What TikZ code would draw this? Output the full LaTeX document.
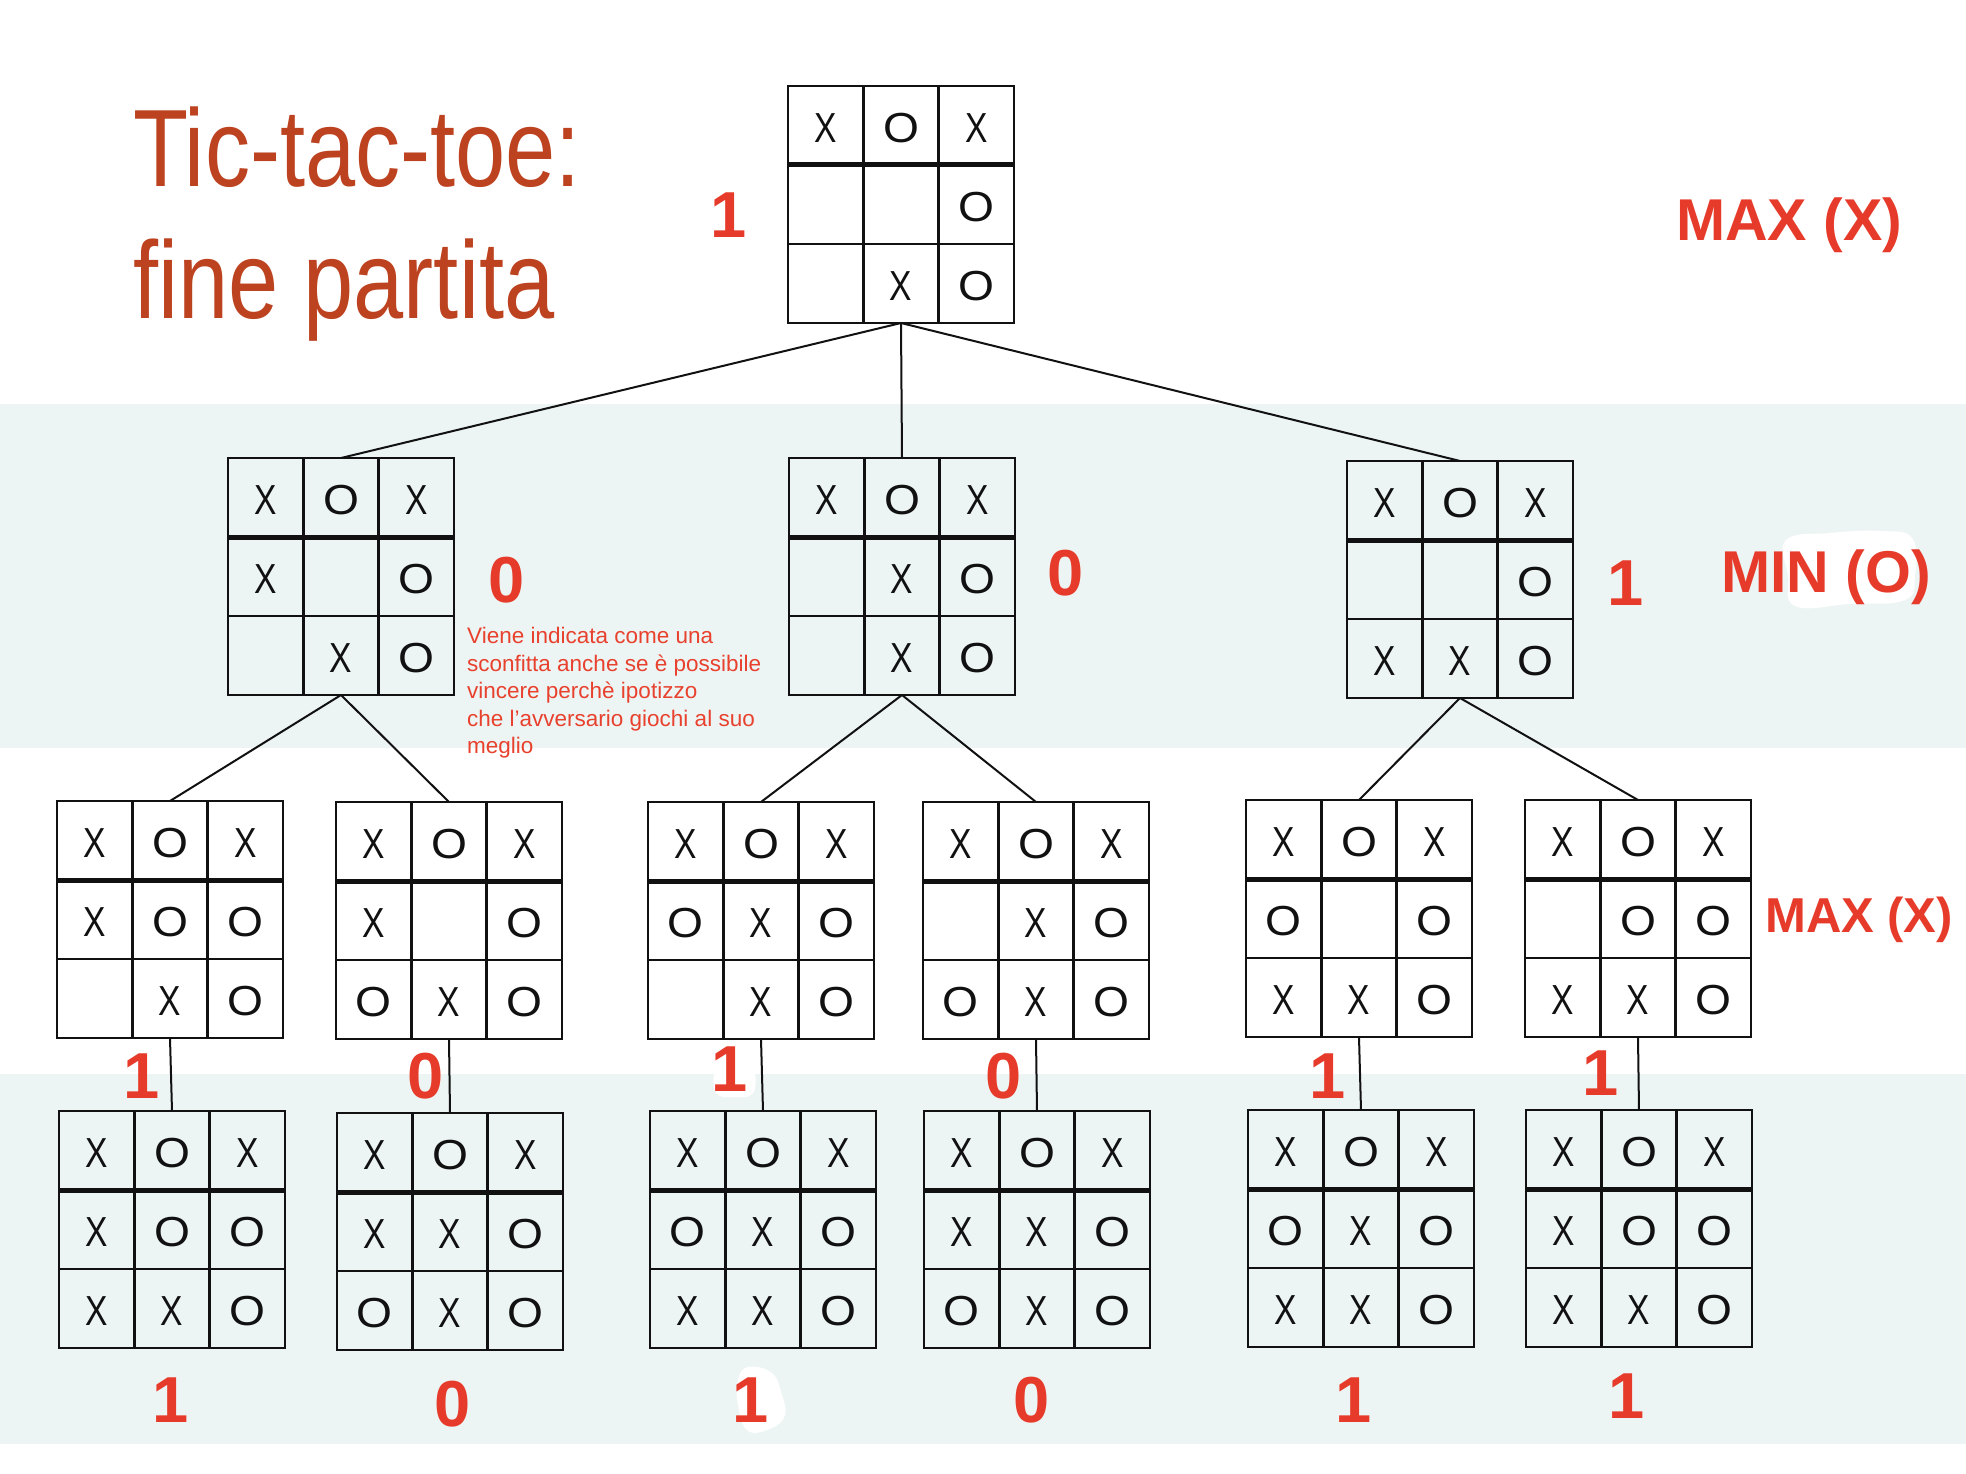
\documentclass[tikz,border=0pt]{standalone}
\usepackage{fontspec}
\setmainfont{Liberation Sans}
\newfontfamily\titlefont[FakeStretch=0.82]{Liberation Sans}
\newfontfamily\xfont[FakeStretch=0.8]{Liberation Sans}
\newfontfamily\ofont[FakeStretch=1.1]{Liberation Sans}
\definecolor{band}{HTML}{EDF5F4}
\definecolor{titlec}{HTML}{BD4220}
\definecolor{labc}{HTML}{E63B2A}
\definecolor{notec}{HTML}{E8412E}
\definecolor{ink}{HTML}{111111}
\newcommand\cmarkX{{\xfont X}}
\newcommand\cmarkO{{\ofont O}}
\newcommand\cmarkE{}
\tikzset{
  boardbox/.style={draw=ink, line width=2.5pt, rectangle, minimum width=226pt, minimum height=237pt, inner sep=0pt, outer sep=0pt},
  gridline/.style={draw=ink, line width=2.5pt},
  gridthick/.style={draw=ink, line width=5pt},
  cellmark/.style={inner sep=0pt, text=ink, font=\fontsize{42}{42}\selectfont},
  conn/.style={draw=ink, line width=2pt},
  vallab/.style={inner sep=0pt, text=labc, font=\bfseries\fontsize{65}{65}\selectfont},
  rolelab/.style={anchor=base west, inner sep=0pt, text=labc},
  titletext/.style={anchor=base west, inner sep=0pt, text=titlec, font=\titlefont\fontsize{110}{110}\selectfont},
}
\newcommand\tttboard[4]{%
  \node[boardbox, anchor=north west] (#1) at (#2,#3) {};
  \begin{scope}[shift={(#2,#3)}]
    \draw[gridline] (75.33,0) -- (75.33,237) (150.67,0) -- (150.67,237) (0,158) -- (226,158);
    \draw[gridthick] (0,79) -- (226,79);
    \foreach \m [count=\i from 0] in {#4} {
      \pgfmathsetmacro\px{(mod(\i,3)+0.5)*75.333}
      \pgfmathsetmacro\py{(floor(\i/3)+0.5)*79+3}
      \node[cellmark] at (\px,\py) {\csname cmark\m\endcsname};
    }
  \end{scope}
}
\begin{document}
\begin{tikzpicture}[x=1pt,y=-1pt]
\useasboundingbox (0,0) rectangle (1966,1474);
\fill[white] (0,0) rectangle (1966,1474);
\fill[band] (0,404) rectangle (1966,747.5);
\fill[band] (0,1073.5) rectangle (1966,1444);
% white smudges
\fill[white] plot[smooth cycle, tension=0.7] coordinates {(1786,540) (1830,533) (1880,531) (1912,538) (1915,575) (1905,600) (1850,604) (1795,606) (1788,575)};
\fill[white, rounded corners=10pt] (713,1068) -- (756,1068) -- (755,1097) -- (714,1097) -- cycle;
\fill[white] plot[smooth cycle, tension=0.7] coordinates {(748,1367) (772,1373) (782,1395) (785,1415) (772,1428) (748,1431) (738,1405) (738,1380)};
% title
\node[titletext] (title1) at (133,187) {Tic-tac-toe:};
\node[titletext] (title2) at (133,318) {fine partita};
% boards
\tttboard{top}{788}{86}{X,O,X,E,E,O,E,X,O}
\tttboard{l1a}{228}{458}{X,O,X,X,E,O,E,X,O}
\tttboard{l1b}{789}{458}{X,O,X,E,X,O,E,X,O}
\tttboard{l1c}{1347}{461}{X,O,X,E,E,O,X,X,O}
\tttboard{l2a}{57}{801}{X,O,X,X,O,O,E,X,O}
\tttboard{l2b}{336}{802}{X,O,X,X,E,O,O,X,O}
\tttboard{l2c}{648}{802}{X,O,X,O,X,O,E,X,O}
\tttboard{l2d}{923}{802}{X,O,X,E,X,O,O,X,O}
\tttboard{l2e}{1246}{800}{X,O,X,O,E,O,X,X,O}
\tttboard{l2f}{1525}{800}{X,O,X,E,O,O,X,X,O}
\tttboard{l3a}{59}{1111}{X,O,X,X,O,O,X,X,O}
\tttboard{l3b}{337}{1113}{X,O,X,X,X,O,O,X,O}
\tttboard{l3c}{650}{1111}{X,O,X,O,X,O,X,X,O}
\tttboard{l3d}{924}{1111}{X,O,X,X,X,O,O,X,O}
\tttboard{l3e}{1248}{1110}{X,O,X,O,X,O,X,X,O}
\tttboard{l3f}{1526}{1110}{X,O,X,X,O,O,X,X,O}
% connectors
\draw[conn] (top.south) -- (l1a.north);
\draw[conn] (top.south) -- (l1b.north);
\draw[conn] (top.south) -- (l1c.north);
\draw[conn] (l1a.south) -- (l2a.north);
\draw[conn] (l1a.south) -- (l2b.north);
\draw[conn] (l1b.south) -- (l2c.north);
\draw[conn] (l1b.south) -- (l2d.north);
\draw[conn] (l1c.south) -- (l2e.north);
\draw[conn] (l1c.south) -- (l2f.north);
\draw[conn] (l2a.south) -- (l3a.north);
\draw[conn] (l2b.south) -- (l3b.north);
\draw[conn] (l2c.south) -- (l3c.north);
\draw[conn] (l2d.south) -- (l3d.north);
\draw[conn] (l2e.south) -- (l3e.north);
\draw[conn] (l2f.south) -- (l3f.north);
% values
\node[vallab] (v0) at (729,215) {1};
\node[vallab] (v1a) at (507,580) {0};
\node[vallab] (v1b) at (1066,573) {0};
\node[vallab] (v1c) at (1626,583) {1};
\node[vallab] (v2a) at (142,1076) {1};
\node[vallab] (v2b) at (426,1076) {0};
\node[vallab] (v2c) at (730,1069) {1};
\node[vallab] (v2d) at (1004,1076) {0};
\node[vallab] (v2e) at (1328,1076) {1};
\node[vallab] (v2f) at (1601,1073) {1};
\node[vallab] (v3a) at (171,1400) {1};
\node[vallab] (v3b) at (453,1404) {0};
\node[vallab] (v3c) at (751,1400) {1};
\node[vallab] (v3d) at (1032,1400) {0};
\node[vallab] (v3e) at (1354,1400) {1};
\node[vallab] (v3f) at (1627,1396) {1};
% role labels
\node[rolelab, font=\bfseries\fontsize{59}{59}\selectfont] (max1) at (1676,241) {MAX (X)};
\node[rolelab, font=\bfseries\fontsize{59}{59}\selectfont] (min1) at (1721,592) {MIN (O)};
\node[rolelab, font=\bfseries\fontsize{49}{49}\selectfont] (max2) at (1765,932) {MAX (X)};
% note
\node[anchor=north west, align=left, inner sep=0pt, text=notec, font=\fontsize{22.5}{27.5}\selectfont] (note) at (467,627) {Viene indicata come una\\sconfitta anche se è possibile\\vincere perchè ipotizzo\\che l’avversario giochi al suo\\meglio};
\end{tikzpicture}
\end{document}
